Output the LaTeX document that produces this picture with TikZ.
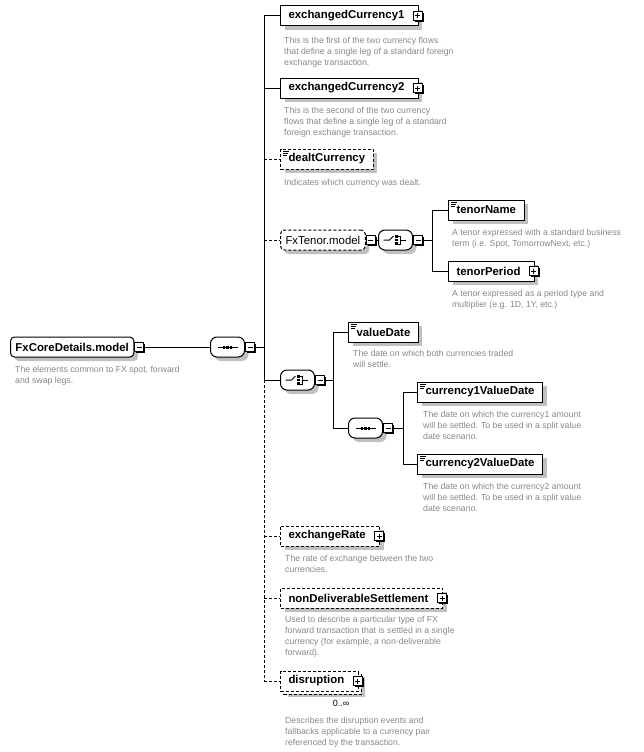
\documentclass[tikz,border=0pt]{standalone}
\usepackage{fontspec}
\setmainfont{Liberation Sans}
\usetikzlibrary{positioning}
\definecolor{desctext}{RGB}{135,135,135}
\definecolor{shadowgray}{RGB}{192,192,192}
\newcommand\namefont{\fontsize{11.4}{13}\selectfont}
\tikzset{
    boxshadow/.style={preaction={fill=shadowgray, transform canvas={shift={(4pt,-4pt)}}}},
    elem/.style={draw, line width=1pt, fill=white, minimum height=20pt, inner xsep=8pt, inner ysep=0pt,
        font=\namefont\bfseries, boxshadow},
    optional/.style={dash pattern=on 3pt off 2pt},
    haschild/.style={execute at end node={\hspace{6pt}}},
    simple/.style={path picture={
        \foreach \l/\d in {6/2,5/4,4/6}
            \draw[line width=0.8pt, solid] ([shift={(2pt,-\d pt)}]path picture bounding box.north west) -- ++(\l pt,0);}},
    repeated/.style={preaction={fill=shadowgray, transform canvas={shift={(7pt,-6pt)}}},
        preaction={draw, fill=white, dash pattern=on 3pt off 2pt, transform canvas={shift={(3pt,-3pt)}}}},
    grp/.style={elem, rounded corners=4pt, inner xsep=5pt},
    comp/.style={draw, line width=1pt, fill=white, rounded corners=6.5pt,
        minimum width=34pt, minimum height=20pt, inner sep=0pt, boxshadow},
    sym/.style={line width=1pt, sharp corners, solid, black},
    seq/.style={comp, path picture={
        \draw[sym] ([xshift=-10pt]path picture bounding box.center) -- ([xshift=10pt]path picture bounding box.center);
        \foreach \dx in {-3.5,0,3.5}
            \fill[sym] ([xshift=\dx pt]path picture bounding box.center) ++(-1.4pt,-1.5pt) rectangle ++(2.8pt,3pt);}},
    choice/.style={comp, path picture={
        \coordinate (cc) at (path picture bounding box.center);
        \draw[sym] ([xshift=-12pt]cc) -- ([xshift=-6pt]cc) -- ([shift={(-2pt,4pt)}]cc);
        \foreach \dy in {-3.5,0,3.5}
            \fill[sym] ([shift={(0.5pt,\dy pt)}]cc) ++(-1.5pt,-1.4pt) rectangle ++(3pt,2.8pt);
        \draw[sym] ([shift={(2.5pt,4pt)}]cc) -- ([shift={(4.5pt,4pt)}]cc) -- ([shift={(4.5pt,-4pt)}]cc) -- ([shift={(2.5pt,-4pt)}]cc);
        \draw[sym] ([xshift=4.5pt]cc) -- ([xshift=10pt]cc);}},
    pmbox/.style={draw, line width=1pt, fill=white, minimum size=9pt, inner sep=0pt, solid,
        preaction={fill=black, transform canvas={shift={(1.5pt,-1.5pt)}}}},
    minus/.style={pmbox, path picture={
        \draw[sym] ([xshift=2pt]path picture bounding box.west) -- ([xshift=-2pt]path picture bounding box.east);}},
    plus/.style={pmbox, path picture={
        \draw[sym] ([xshift=2pt]path picture bounding box.west) -- ([xshift=-2pt]path picture bounding box.east);
        \draw[sym] ([yshift=-2pt]path picture bounding box.north) -- ([yshift=2pt]path picture bounding box.south);}},
    desc/.style={anchor=north west, align=left, inner sep=0pt, text=desctext, font=\fontsize{8.7}{11}\selectfont},
    link/.style={line width=1pt},
    optlink/.style={link, dash pattern=on 3pt off 2pt},
}
\begin{document}
\begin{tikzpicture}[x=1pt, y=-1pt]
    \useasboundingbox (0,0) rectangle (643,752);
    % model and its sequence
    \node[grp, anchor=west] (core) at (10,347) {FxCoreDetails.model};
    \node[minus, anchor=west] (corem) at (core.east) {};
    \node[desc] (coredesc) at (15,366) {The elements common to FX spot, forward\\and swap legs.};
    \node[seq, anchor=west] (seq1) at (210,347) {};
    \node[minus, anchor=west] (seq1m) at (seq1.east) {};
    \coordinate (trunk) at (264,347);
    % children of the sequence
    \node[elem, haschild, anchor=west] (ec1) at (280,16) {exchangedCurrency1};
    \node[plus] (ec1p) at ([xshift=-1pt]ec1.east) {};
    \node[desc] (ec1desc) at (284,37) {This is the first of the two currency flows\\that define a single leg of a standard foreign\\exchange transaction.};
    \node[elem, haschild, anchor=west] (ec2) at (280,88) {exchangedCurrency2};
    \node[plus] (ec2p) at ([xshift=-1pt]ec2.east) {};
    \node[desc] (ec2desc) at (284,107) {This is the second of the two currency\\flows that define a single leg of a standard\\foreign exchange transaction.};
    \node[elem, optional, simple, anchor=west] (dealt) at (280,159) {dealtCurrency};
    \node[desc] (dealtdesc) at (284,179) {Indicates which currency was dealt.};
    \node[grp, optional, font=\namefont, anchor=west] (tenor) at (280,240) {FxTenor.model};
    \node[minus, anchor=west] (tenorm) at (tenor.east) {};
    \node[choice, anchor=west] (ch2) at (378,240) {};
    \node[minus, anchor=west] (ch2m) at (ch2.east) {};
    \coordinate (br2) at (432,240);
    \node[elem, simple, anchor=west] (tname) at (448,210) {tenorName};
    \node[desc] (tnamedesc) at (452,229) {A tenor expressed with a standard business\\term (i.e. Spot, TomorrowNext, etc.)};
    \node[elem, haschild, anchor=west] (tper) at (448,271) {tenorPeriod};
    \node[plus] (tperp) at ([xshift=-1pt]tper.east) {};
    \node[desc] (tperdesc) at (452,290) {A tenor expressed as a period type and\\multiplier (e.g. 1D, 1Y, etc.)};
    \node[choice, anchor=west] (ch1) at (280,380) {};
    \node[minus, anchor=west] (ch1m) at (ch1.east) {};
    \coordinate (br1) at (333,380);
    \node[elem, simple, anchor=west] (vd) at (348,332) {valueDate};
    \node[desc] (vddesc) at (353,350) {The date on which both currencies traded\\will settle.};
    \node[seq, anchor=west] (seq2) at (348,428) {};
    \node[minus, anchor=west] (seq2m) at (seq2.east) {};
    \coordinate (br3) at (403,428);
    \node[elem, simple, anchor=west] (c1vd) at (417,392) {currency1ValueDate};
    \node[desc] (c1vddesc) at (423,411) {The date on which the currency1 amount\\will be settled. To be used in a split value\\date scenario.};
    \node[elem, simple, anchor=west] (c2vd) at (417,464) {currency2ValueDate};
    \node[desc] (c2vddesc) at (423,483) {The date on which the currency2 amount\\will be settled. To be used in a split value\\date scenario.};
    \node[elem, optional, haschild, anchor=west] (rate) at (280,536) {exchangeRate};
    \node[plus] (ratep) at ([xshift=-1pt]rate.east) {};
    \node[desc] (ratedesc) at (285,555) {The rate of exchange between the two\\currencies.};
    \node[elem, optional, haschild, anchor=west] (nds) at (280,598) {nonDeliverableSettlement};
    \node[plus] (ndsp) at ([xshift=-1pt]nds.east) {};
    \node[desc] (ndsdesc) at (285,616) {Used to describe a particular type of FX\\forward transaction that is settled in a single\\currency (for example, a non-deliverable\\forward).};
    \node[elem, optional, haschild, repeated, anchor=west] (dis) at (280,681) {disruption};
    \node[plus] (disp) at ([xshift=-1pt]dis.east) {};
    \node[font=\fontsize{9}{11}\selectfont, inner sep=0pt] (discard) at (341,703) {0..∞};
    \node[desc] (disdesc) at (285,717) {Describes the disruption events and\\fallbacks applicable to a currency pair\\referenced by the transaction.};
    % connectors
    \draw[link] (corem) -- (seq1);
    \draw[link] (seq1m) -- (trunk);
    \draw[link] (trunk |- ec1) -- (trunk |- ch1);
    \draw[optlink] (trunk |- ch1) -- (trunk |- dis);
    \draw[link] (trunk |- ec1) -- (ec1);
    \draw[link] (trunk |- ec2) -- (ec2);
    \draw[optlink] (trunk |- dealt) -- (dealt);
    \draw[optlink] (trunk |- tenor) -- (tenor);
    \draw[link] (trunk |- ch1) -- (ch1);
    \draw[optlink] (trunk |- rate) -- (rate);
    \draw[optlink] (trunk |- nds) -- (nds);
    \draw[optlink] (trunk |- dis) -- (dis);
    \draw[link] (tenorm) -- (ch2);
    \draw[link] (ch2m) -- (br2);
    \draw[link] (br2 |- tname) -- (br2 |- tper);
    \draw[link] (br2 |- tname) -- (tname);
    \draw[link] (br2 |- tper) -- (tper);
    \draw[link] (ch1m) -- (br1);
    \draw[link] (br1 |- vd) -- (br1 |- seq2);
    \draw[link] (br1 |- vd) -- (vd);
    \draw[link] (br1 |- seq2) -- (seq2);
    \draw[link] (seq2m) -- (br3);
    \draw[link] (br3 |- c1vd) -- (br3 |- c2vd);
    \draw[link] (br3 |- c1vd) -- (c1vd);
    \draw[link] (br3 |- c2vd) -- (c2vd);
\end{tikzpicture}
\end{document}
